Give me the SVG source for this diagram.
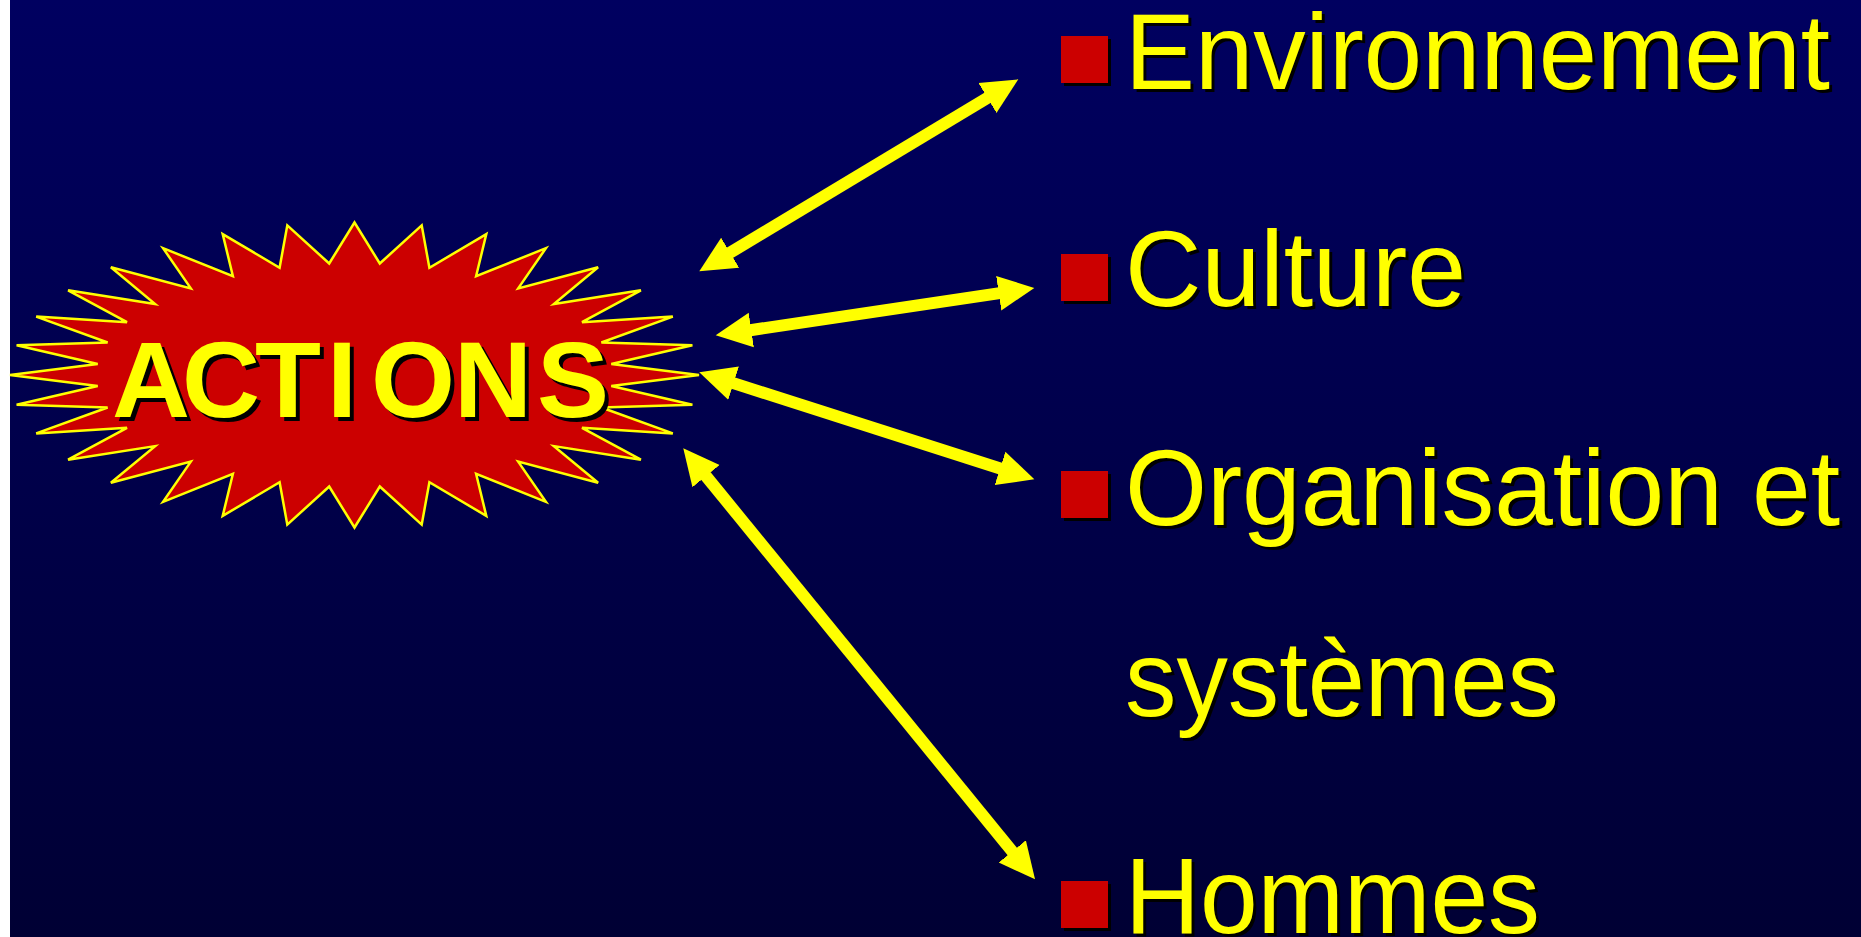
<svg xmlns="http://www.w3.org/2000/svg" width="1861" height="937" viewBox="0 0 1861 937">
  <defs>
    <linearGradient id="bg" x1="0" y1="0" x2="0" y2="1">
      <stop offset="0" stop-color="#000060"/>
      <stop offset="1" stop-color="#000034"/>
    </linearGradient>
    <marker id="head" viewBox="0 -20 40 40" markerWidth="40" markerHeight="40" refX="1" refY="0" orient="auto-start-reverse" markerUnits="userSpaceOnUse">
      <path d="M0,-17.5 L36,0 L0,17.5 z" fill="#FFFF00"/>
    </marker>
    <style>
      .conn { stroke: #FFFF00; stroke-width: 12; fill: none; marker-start: url(#head); marker-end: url(#head); }
      .item { font-family: "Liberation Sans", Arial, sans-serif; font-size: 108px; fill: #FFFF00; }
      .item.sh, .title.sh { fill: #000000; }
      .title { font-family: "Liberation Sans", Arial, sans-serif; font-size: 108px; font-weight: bold; fill: #FFFF00; }
      .bullet { fill: #CC0000; }
      .bsh { fill: #000000; }
    </style>
  </defs>

  <rect x="0" y="0" width="1861" height="937" fill="url(#bg)"/>
  <rect x="0" y="0" width="10" height="937" fill="#FFFFFF"/>

  <g id="actions">
    <polygon fill="#CC0000" stroke="#FFFF00" stroke-width="2.5" stroke-linejoin="miter" points="354.5,222.5 379.8,263.5 421.7,225.4 429.4,267.8 486.3,234.1 476.1,276.2 545.9,248.2 518.2,288.4 598.1,267.2 553.9,304.0 640.9,290.3 582.0,322.2 672.8,316.6 601.4,342.5 692.4,345.3 611.3,364.0 699.0,375.0 611.3,386.0 692.4,404.8 601.4,407.5 672.8,433.4 582.0,427.8 640.9,459.7 553.9,446.1 598.1,482.8 518.2,461.6 545.9,501.8 476.1,473.8 486.3,515.9 429.4,482.2 421.7,524.6 379.8,486.5 354.5,527.5 329.2,486.5 287.3,524.6 279.6,482.2 222.7,515.9 232.9,473.8 163.1,501.8 190.8,461.6 110.9,482.8 155.1,446.1 68.1,459.7 127.0,427.8 36.2,433.4 107.6,407.5 16.6,404.8 97.7,386.0 10.0,375.0 97.7,364.0 16.6,345.3 107.6,342.5 36.2,316.6 127.0,322.2 68.1,290.3 155.1,304.0 110.9,267.2 190.8,288.4 163.1,248.2 232.9,276.2 222.7,234.1 279.6,267.8 287.3,225.4 329.2,263.5"/>
    <text class="title sh" x="116 186 259 331 375 458 541" y="421">ACTIONS</text>
    <text class="title" x="112 182 255 327 371 454 537" y="417">ACTIONS</text>
  </g>

  <g id="connectors">
    <line class="conn" x1="729.3" y1="253.2" x2="988.3" y2="97.4"/>
    <line class="conn" x1="750.3" y1="330.2" x2="999.7" y2="293.1"/>
    <line class="conn" x1="732.6" y1="382.9" x2="1001.0" y2="468.7"/>
    <line class="conn" x1="705.4" y1="475.4" x2="1012.9" y2="852.2"/>
  </g>

  <g id="environnement">
    <rect class="bsh" x="1064" y="39" width="47" height="47"/>
    <rect class="bullet" x="1061" y="36" width="47" height="47"/>
    <text class="item sh" x="1128" y="92" textLength="705" lengthAdjust="spacingAndGlyphs">Environnement</text>
    <text class="item" x="1125" y="89" textLength="705" lengthAdjust="spacingAndGlyphs">Environnement</text>
  </g>

  <g id="culture">
    <rect class="bsh" x="1064" y="257" width="47" height="47"/>
    <rect class="bullet" x="1061" y="254" width="47" height="47"/>
    <text class="item sh" x="1128" y="309" textLength="341" lengthAdjust="spacingAndGlyphs">Culture</text>
    <text class="item" x="1125" y="306" textLength="341" lengthAdjust="spacingAndGlyphs">Culture</text>
  </g>

  <g id="organisation">
    <rect class="bsh" x="1064" y="474" width="47" height="47"/>
    <rect class="bullet" x="1061" y="471" width="47" height="47"/>
    <text class="item sh" x="1128" y="528" textLength="715" lengthAdjust="spacingAndGlyphs">Organisation et</text>
    <text class="item" x="1125" y="525" textLength="715" lengthAdjust="spacingAndGlyphs">Organisation et</text>
    <text class="item sh" x="1128" y="719" textLength="434" lengthAdjust="spacingAndGlyphs">systèmes</text>
    <text class="item" x="1125" y="716" textLength="434" lengthAdjust="spacingAndGlyphs">systèmes</text>
  </g>

  <g id="hommes">
    <rect class="bsh" x="1064" y="884" width="47" height="47"/>
    <rect class="bullet" x="1061" y="881" width="47" height="47"/>
    <text class="item sh" x="1128" y="936" textLength="415" lengthAdjust="spacingAndGlyphs">Hommes</text>
    <text class="item" x="1125" y="933" textLength="415" lengthAdjust="spacingAndGlyphs">Hommes</text>
  </g>
</svg>
